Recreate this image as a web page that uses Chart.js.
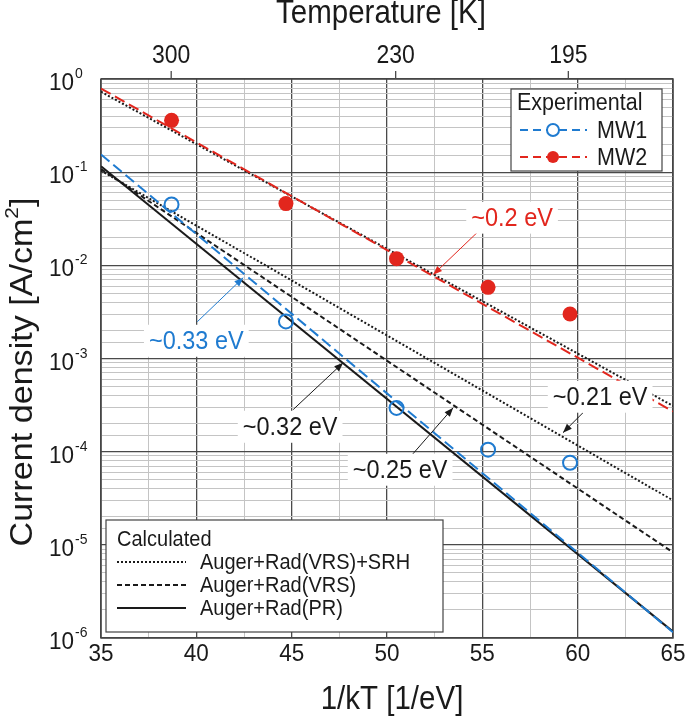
<!DOCTYPE html>
<html><head><meta charset="utf-8">
<script src="https://cdn.jsdelivr.net/npm/chart.js@4.4.1/dist/chart.umd.min.js"></script>
<style>html,body{margin:0;padding:0;background:#fff;}</style>
</head><body>
<canvas id="c" width="685" height="718"></canvas>
<script>
// ---------------- data ----------------
const xGridTicks = [35, 37.5, 40, 42.5, 45, 47.5, 50, 52.5, 55, 57.5, 60, 62.5, 65];
const xLabelTicks = [35, 40, 45, 50, 55, 60, 65];
const tempTicksK = [300, 230, 195];
const yDecades = [0, -1, -2, -3, -4, -5, -6];

const measX = [38.7, 44.7, 50.5, 55.3, 59.6];          // 1/kT of measurements
const mw1 = [0.045, 2.5e-3, 2.95e-4, 1.05e-4, 7.6e-5];
const mw2 = [0.36, 0.046, 0.0118, 5.8e-3, 3.0e-3];

const lineX = [35, 65];                                 // fitted / calculated lines
const mw2Fit = [0.79, 2.7e-4];
const mw2Calc = [0.73, 3.1e-4];
const mw1Fit = [0.155, 1.15e-6];
const calcSRH = [0.104, 3.0e-5];
const calcVRS = [0.108, 8.3e-6];
const calcPR = [0.116, 1.17e-6];

// ---------------- styles ----------------
const KB = 8.617333e-5;
const FONT = '"Liberation Sans", Arial, sans-serif';
const SY = 1.1;            // glyphs in the reference are slightly tall
const RED = '#e2261d';
const BLUE = '#1f7bd0';
const INK = '#1a1a1a';
const MAJ = '#4a4a4a';
const MIN = '#c4c4c4';

const notes = [
  {text: '~0.2 eV',  color: RED,  at: [56.56, 0.0325], from: [54.78, 0.023],  to: [52.42, 7.94e-3]},
  {text: '~0.33 eV', color: BLUE, at: [40.0, 1.55e-3],  from: [40.05, 2.48e-3], to: [42.46, 7.38e-3]},
  {text: '~0.32 eV', color: INK,  at: [44.92, 1.85e-4], from: [45.08, 2.83e-4], to: [47.70, 9.0e-4]},
  {text: '~0.25 eV', color: INK,  at: [50.69, 6.4e-5],  from: [50.95, 7.6e-5],  to: [53.47, 2.96e-4]},
  {text: '~0.21 eV', color: INK,  at: [61.18, 3.89e-4], from: [60.28, 2.62e-4], to: [59.23, 1.6e-4]}
];

const pts = (xs, ys) => xs.map((x, i) => ({x, y: ys[i]}));
const isPow10 = v => Math.abs(Math.log10(v) - Math.round(Math.log10(v))) < 1e-6;

function lineDs(label, ys, color, dash, order) {
  return {label, data: pts(lineX, ys), showLine: true, borderColor: color, backgroundColor: color,
          borderWidth: 2, borderDash: dash, pointRadius: 0, order};
}

function txt(ctx, s, x, y, size, color, align, baseline) {
  ctx.save();
  ctx.translate(x, y);
  ctx.scale(1, SY);
  ctx.font = size + 'px ' + FONT;
  ctx.fillStyle = color;
  ctx.textAlign = align || 'center';
  ctx.textBaseline = baseline || 'middle';
  ctx.fillText(s, 0, 0);
  ctx.restore();
}

const overlay = {
  id: 'overlay',
  beforeDatasetsDraw(chart) {
    const {ctx, chartArea: a} = chart;
    ctx.save();
    ctx.strokeStyle = '#454545';
    ctx.lineWidth = 1.5;
    ctx.strokeRect(a.left, a.top, a.right - a.left, a.bottom - a.top);
    ctx.restore();
  },
  afterDraw(chart) {
    const {ctx, scales, chartArea: a} = chart;
    const X = scales.x, Y = scales.y;
    ctx.save();

    // bottom tick labels + title
    xLabelTicks.forEach(v => txt(ctx, String(v), X.getPixelForValue(v), 654, 22.5, INK));
    txt(ctx, '1/kT [1/eV]', 392, 700, 29.5, INK);

    // top temperature axis: tick marks, labels, title
    ctx.strokeStyle = MAJ; ctx.lineWidth = 1.3;
    tempTicksK.forEach(T => {
      const px = X.getPixelForValue(1 / (KB * T));
      ctx.beginPath(); ctx.moveTo(px, a.top); ctx.lineTo(px, a.top - 8); ctx.stroke();
      txt(ctx, String(T), px, 56, 23, INK);
    });
    txt(ctx, 'Temperature [K]', 381, 14, 29.5, INK);

    // y tick labels 10^n
    yDecades.forEach(e => {
      const py = Y.getPixelForValue(Math.pow(10, e));
      txt(ctx, '10', 49, py + 11, 22.5, INK, 'left', 'alphabetic');
      ctx.font = '22.5px ' + FONT;
      const w = ctx.measureText('10').width;
      txt(ctx, String(e), 49 + w + 1, py - 1, 14, INK, 'left', 'alphabetic');
    });

    // y title (rotated), with superscript 2
    ctx.save();
    ctx.translate(23, 372);
    ctx.rotate(-Math.PI / 2);
    ctx.scale(SY, 1);
    ctx.fillStyle = INK;
    ctx.textAlign = 'left';
    ctx.textBaseline = 'middle';
    const t1 = 'Current density [A/cm', t3 = ']';
    ctx.font = '31px ' + FONT;
    const w1 = ctx.measureText(t1).width, w3 = ctx.measureText(t3).width;
    ctx.font = '19px ' + FONT;
    const w2 = ctx.measureText('2').width;
    const sx = -(w1 + w2 + w3) / 2;
    ctx.font = '31px ' + FONT;
    ctx.fillText(t1, sx, 0);
    ctx.font = '19px ' + FONT;
    ctx.fillText('2', sx + w1, -10);
    ctx.font = '31px ' + FONT;
    ctx.fillText(t3, sx + w1 + w2, 0);
    ctx.restore();

    // annotations with arrows
    notes.forEach(n => {
      const fx = X.getPixelForValue(n.from[0]), fy = Y.getPixelForValue(n.from[1]);
      const tx = X.getPixelForValue(n.to[0]), ty = Y.getPixelForValue(n.to[1]);
      ctx.strokeStyle = n.color; ctx.fillStyle = n.color; ctx.lineWidth = 1;
      ctx.beginPath(); ctx.moveTo(fx, fy); ctx.lineTo(tx, ty); ctx.stroke();
      const ang = Math.atan2(ty - fy, tx - fx), L = 9, H = 3.5;
      ctx.beginPath();
      ctx.moveTo(tx, ty);
      ctx.lineTo(tx - L * Math.cos(ang) + H * Math.sin(ang), ty - L * Math.sin(ang) - H * Math.cos(ang));
      ctx.lineTo(tx - L * Math.cos(ang) - H * Math.sin(ang), ty - L * Math.sin(ang) + H * Math.cos(ang));
      ctx.closePath(); ctx.fill();
      const cx = X.getPixelForValue(n.at[0]), cy = Y.getPixelForValue(n.at[1]);
      ctx.font = '23.5px ' + FONT;
      const tw = ctx.measureText(n.text).width;
      ctx.fillStyle = '#fff';
      ctx.fillRect(cx - tw / 2 - 5, cy - 16, tw + 10, 32);
      txt(ctx, n.text, cx, cy + 1, 23.5, n.color);
    });

    // legend boxes
    const box = (x, y, w, h) => {
      ctx.fillStyle = '#fff'; ctx.fillRect(x, y, w, h);
      ctx.strokeStyle = '#444'; ctx.lineWidth = 1.2; ctx.strokeRect(x, y, w, h);
    };
    box(511, 89, 151, 82);
    txt(ctx, 'Experimental', 517, 103, 21.5, INK, 'left');
    [[BLUE, 'MW1', 130, false], [RED, 'MW2', 157, true]].forEach(([c, t, y, filled]) => {
      ctx.strokeStyle = c; ctx.lineWidth = 2; ctx.setLineDash([8, 5]);
      ctx.beginPath(); ctx.moveTo(520, y); ctx.lineTo(587, y); ctx.stroke();
      ctx.setLineDash([]);
      ctx.beginPath(); ctx.arc(553, y, 6, 0, Math.PI * 2);
      if (filled) { ctx.fillStyle = c; ctx.fill(); }
      else { ctx.fillStyle = '#fff'; ctx.fill(); ctx.stroke(); }
      txt(ctx, t, 597, y + 1, 21.5, INK, 'left');
    });

    box(106, 520, 337, 112);
    txt(ctx, 'Calculated', 117, 540, 20, INK, 'left');
    [[[2, 2], 'Auger+Rad(VRS)+SRH', 562], [[5, 3], 'Auger+Rad(VRS)', 585], [[], 'Auger+Rad(PR)', 608]].forEach(([d, t, y]) => {
      ctx.strokeStyle = INK; ctx.lineWidth = 2; ctx.setLineDash(d);
      ctx.beginPath(); ctx.moveTo(117, y); ctx.lineTo(186, y); ctx.stroke();
      ctx.setLineDash([]);
      txt(ctx, t, 200, y + 1, 20, INK, 'left');
    });
    ctx.restore();
  }
};

new Chart(document.getElementById('c'), {
  type: 'scatter',
  data: {
    datasets: [
      {label: 'MW2', data: pts(measX, mw2), pointRadius: 7.5, pointBackgroundColor: RED, pointBorderColor: RED, borderWidth: 0, showLine: false, order: 0},
      {label: 'MW1', data: pts(measX, mw1), pointRadius: 7, pointBackgroundColor: 'rgba(0,0,0,0)', pointBorderColor: BLUE, pointBorderWidth: 2, showLine: false, order: 0},
      lineDs('MW2 fit', mw2Fit, RED, [11, 5], 1),
      lineDs('MW2 Auger+Rad(VRS)+SRH', mw2Calc, INK, [2, 2], 2),
      lineDs('MW1 fit', mw1Fit, BLUE, [11, 5], 3),
      lineDs('Auger+Rad(PR)', calcPR, INK, [], 4),
      lineDs('Auger+Rad(VRS)', calcVRS, INK, [5, 3], 5),
      lineDs('Auger+Rad(VRS)+SRH', calcSRH, INK, [2, 2], 6)
    ]
  },
  options: {
    responsive: false, animation: false, devicePixelRatio: 1,
    layout: {padding: {left: 0, right: 12, top: 79, bottom: 0}},
    plugins: {legend: {display: false}, tooltip: {enabled: false}},
    scales: {
      x: {
        type: 'linear', position: 'bottom', min: 35, max: 65,
        afterBuildTicks: s => { s.ticks = xGridTicks.map(v => ({value: v})); },
        afterFit: s => { s.height = 80; },
        ticks: {display: false, autoSkip: false},
        grid: {drawTicks: false, color: c => (c.tick && xLabelTicks.includes(c.tick.value)) ? MAJ : MIN,
               lineWidth: c => (c.tick && xLabelTicks.includes(c.tick.value)) ? 1.3 : 1},
        border: {display: false},
        title: {display: false}
      },
      y: {
        type: 'logarithmic', position: 'left', min: 1e-6, max: 1,
        afterFit: s => { s.width = 101; },
        ticks: {display: false},
        grid: {drawTicks: false, color: c => (c.tick && isPow10(c.tick.value)) ? MAJ : MIN,
               lineWidth: c => (c.tick && isPow10(c.tick.value)) ? 1.3 : 1},
        border: {display: false}
      }
    }
  },
  plugins: [overlay]
});
</script>
</body></html>
